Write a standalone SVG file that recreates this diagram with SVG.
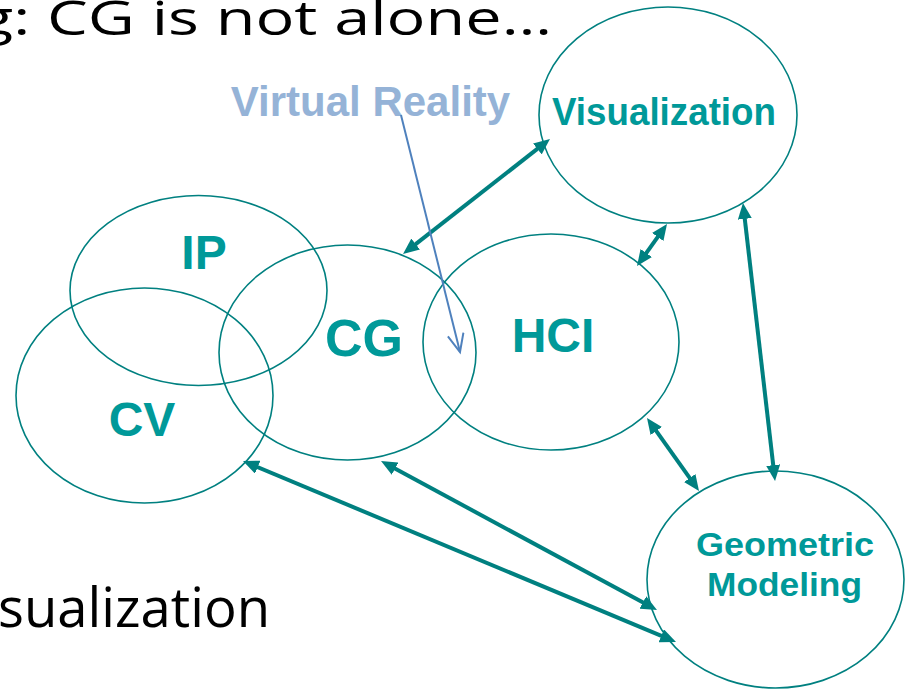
<svg xmlns="http://www.w3.org/2000/svg" width="907" height="690" viewBox="0 0 907 690">
<style>
.node ellipse{fill:none;stroke:#008080;stroke-width:1.6}
.lbl{font-family:"Liberation Sans",Arial,sans-serif;font-weight:bold;fill:#009999;text-anchor:middle}
.conn line{stroke:#008080;stroke-width:4;marker-start:url(#ah);marker-end:url(#ah)}
.slide{font-family:"Open Sans","Noto Sans",sans-serif;fill:#000}
</style>
<defs>
<marker id="ah" markerUnits="userSpaceOnUse" markerWidth="16" markerHeight="14" refX="6" refY="7" orient="auto-start-reverse">
<path d="M0,0 L16,7 L0,14 z" fill="#008080"/>
</marker>
<marker id="open" markerUnits="userSpaceOnUse" markerWidth="22" markerHeight="20" refX="19" refY="9" orient="auto">
<path d="M1,1 L19,9 L1,17" fill="none" stroke="#4F81BD" stroke-width="2"/>
</marker>
</defs>
<rect width="907" height="690" fill="#fff"/>
<text class="slide" x="-22" y="35" font-size="48" textLength="574" lengthAdjust="spacingAndGlyphs">g: CG is not alone…</text>
<text class="slide" x="-2" y="627" font-size="54" textLength="272" lengthAdjust="spacingAndGlyphs">sualization</text>
<g id="node-ip" class="node"><ellipse cx="198.5" cy="290.5" rx="128.5" ry="95"/><text class="lbl" x="204" y="269" font-size="48">IP</text></g>
<g id="node-cv" class="node"><ellipse cx="144.5" cy="395.5" rx="128.5" ry="107.5"/><text class="lbl" x="142" y="436" font-size="48">CV</text></g>
<g id="node-cg" class="node"><ellipse cx="347.5" cy="352.5" rx="128.5" ry="107.5"/><text class="lbl" x="364" y="356" font-size="52">CG</text></g>
<g id="node-hci" class="node"><ellipse cx="551" cy="342" rx="128" ry="108"/><text class="lbl" x="553" y="352" font-size="48">HCI</text></g>
<g id="node-vis" class="node"><ellipse cx="668" cy="115" rx="129" ry="108"/><text class="lbl" x="664" y="125" font-size="38" textLength="224" lengthAdjust="spacingAndGlyphs">Visualization</text></g>
<g id="node-gm" class="node"><ellipse cx="775.5" cy="579.5" rx="128.5" ry="108.5"/><text class="lbl" x="785" y="556" font-size="34" textLength="178" lengthAdjust="spacingAndGlyphs">Geometric</text><text class="lbl" x="784.5" y="596" font-size="34" textLength="155" lengthAdjust="spacingAndGlyphs">Modeling</text></g>
<g id="label-vr"><text class="lbl" x="370.5" y="116" font-size="42" style="fill:#95B3D7">Virtual Reality</text></g>
<g id="connectors" class="conn">
<line x1="410.9" y1="247.8" x2="542.1" y2="145.2"/>
<line x1="661.2" y1="232.1" x2="642.8" y2="257.9"/>
<line x1="744.1" y1="212.9" x2="773.9" y2="471.1"/>
<line x1="652.8" y1="426.1" x2="693.2" y2="482.9"/>
<line x1="252.2" y1="464.9" x2="666.8" y2="638.1"/>
<line x1="389.8" y1="465.8" x2="648.2" y2="605.3"/>
<path d="M401,115 L460,352" fill="none" stroke="#4F81BD" stroke-width="2" marker-end="url(#open)"/>
</g>
</svg>
